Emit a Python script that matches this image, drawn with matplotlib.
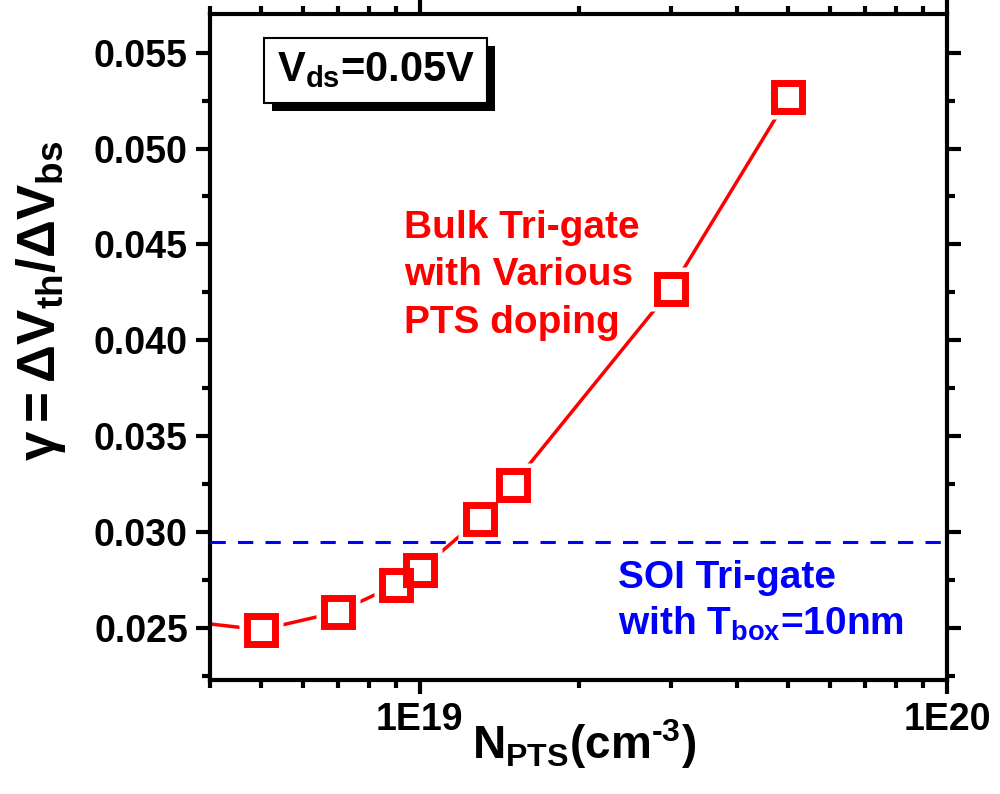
import matplotlib
matplotlib.use("Agg")
import matplotlib.pyplot as plt
import matplotlib.transforms as mtransforms
from matplotlib.patches import Rectangle
from matplotlib.ticker import LogLocator, FixedLocator, MultipleLocator, NullFormatter

plt.rcParams['font.family'] = ['Liberation Sans', 'DejaVu Sans']
plt.rcParams['font.weight'] = 'bold'
plt.rcParams['axes.labelweight'] = 'bold'
plt.rcParams['mathtext.fontset'] = 'custom'
plt.rcParams['mathtext.rm'] = 'Liberation Sans:bold'
plt.rcParams['mathtext.it'] = 'Liberation Sans:bold'
plt.rcParams['mathtext.bf'] = 'Liberation Sans:bold'
plt.rcParams['mathtext.sf'] = 'Liberation Sans:bold'
plt.rcParams['mathtext.default'] = 'rm'
plt.rcParams['axes.unicode_minus'] = False

# PTS doping concentration (cm^-3) and body-effect coefficient
n_pts = [3e18, 5e18, 7e18, 9e18, 1e19, 1.3e19, 1.5e19, 3e19, 5e19]
gamma_bulk = [0.0256, 0.0249, 0.02583, 0.02723, 0.0280, 0.0307, 0.03246, 0.04267, 0.05267]
gamma_soi = 0.02947

x_ticks = [1e19, 1e20]
x_ticklabels = ['1E19', '1E20']
y_ticks = [0.025, 0.030, 0.035, 0.040, 0.045, 0.050, 0.055]
y_ticklabels = ['0.025', '0.030', '0.035', '0.040', '0.045', '0.050', '0.055']

fig = plt.figure(figsize=(10, 7.94), dpi=100)
ax = fig.add_axes([0.21, 0.144, 0.737, 0.838])

ax.set_xscale('log')
ax.set_xlim(4e18, 1e20)
ax.set_ylim(0.0223, 0.0570)

red = '#ff0000'
blue = '#0000ff'

# connecting line, then white pads so the line stops short of each marker
ax.plot(n_pts, gamma_bulk, color=red, lw=2.5, zorder=2, clip_on=True)
ax.plot(n_pts, gamma_bulk, ls='none', marker='s', ms=31, mfc='white', mec='none',
        zorder=3, clip_on=True)
ax.axhline(gamma_soi, color=blue, lw=2.2, dashes=(5, 4), zorder=3.5)
ax.plot(n_pts, gamma_bulk, ls='none', marker='s', ms=20, mfc='none', mec=red,
        mew=5, zorder=4, clip_on=True)

# axes styling
for sp in ax.spines.values():
    sp.set_linewidth(3)
ax.xaxis.set_major_locator(FixedLocator(x_ticks))
ax.set_xticklabels(x_ticklabels)
ax.xaxis.set_minor_locator(LogLocator(base=10, subs=range(2, 10)))
ax.xaxis.set_minor_formatter(NullFormatter())
ax.yaxis.set_major_locator(FixedLocator(y_ticks))
ax.set_yticklabels(y_ticklabels)
ax.yaxis.set_minor_locator(MultipleLocator(0.0025))
ax.tick_params(which='major', direction='out', length=10, width=3,
               labelsize=27, top=True, right=True, pad=6)
ax.tick_params(which='minor', direction='out', length=6, width=3,
               top=True, right=True)
for lbl in ax.get_xticklabels() + ax.get_yticklabels():
    lbl.set_fontweight('bold')

ax.set_xlabel(r'N$_{\mathrm{PTS}}$(cm$^{\text{-3}}$)', fontsize=33)
ax.xaxis.set_label_coords(0.508, -0.057, transform=ax.transAxes)
ax.xaxis.label.set_va('top')
ax.set_ylabel(r'$\gamma=\Delta\mathrm{V}_{\mathrm{th}}/\Delta\mathrm{V}_{\mathrm{bs}}$',
              fontsize=38)
ax.yaxis.set_label_coords(-0.192, 0.57, transform=ax.transAxes)

# annotations
ax.text(0.263, 0.6075, 'Bulk Tri-gate\nwith Various\nPTS doping', transform=ax.transAxes,
        color=red, fontsize=28, fontweight='bold', ha='left', va='center',
        linespacing=1.4)
ax.text(0.554, 0.117, 'SOI Tri-gate\nwith T$_{\\mathrm{box}}$=10nm',
        transform=ax.transAxes, color=blue, fontsize=28, fontweight='bold',
        ha='left', va='center', linespacing=1.3)

label = r'V$_{\mathrm{ds}}$=0.05V'
vds = ax.text(0.225, 0.916, label, transform=ax.transAxes, color='black', fontsize=30,
              ha='center', va='center',
              bbox=dict(boxstyle='square,pad=0.3', fc='white', ec='black', lw=1.5),
              zorder=6)

# drop shadow behind the boxed label
fig.canvas.draw()
bb = vds.get_bbox_patch().get_window_extent(fig.canvas.get_renderer())
ax.add_patch(Rectangle((bb.x0 + 8, bb.y0 - 8), bb.width, bb.height,
                       transform=mtransforms.IdentityTransform(),
                       fc='black', ec='none', zorder=5, clip_on=False))

fig.savefig('out.png', dpi=100)
